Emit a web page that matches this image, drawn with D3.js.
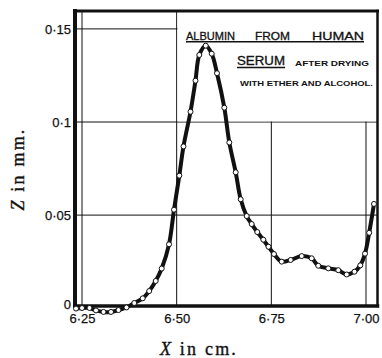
<!DOCTYPE html>
<html>
<head>
<meta charset="utf-8">
<script src="https://cdn.jsdelivr.net/npm/d3@7"></script>
<style>
  html, body { margin: 0; padding: 0; background: #fff; }
  svg { display: block; }
</style>
</head>
<body>
<svg id="chart" width="382" height="358"></svg>
<script>
// ---------- data ----------
const xVals = [6.2342, 6.2500, 6.2698, 6.2870, 6.3068, 6.3266, 6.3464, 6.3675, 6.3881, 6.4103,
               6.4275, 6.4446, 6.4605, 6.4798, 6.4930, 6.5070, 6.5180, 6.5365, 6.5497, 6.5598,
               6.5767, 6.5925, 6.6065, 6.6258, 6.6390, 6.6559, 6.6691, 6.6849, 6.6981, 6.7129,
               6.7288, 6.7425, 6.7570, 6.7774, 6.8011, 6.8302, 6.8566, 6.8740, 6.9004, 6.9268,
               6.9490, 6.9696, 6.9849, 6.9974, 7.0084, 7.0211];
const zVals = [-0.0002, 0.0001, 0.0001, -0.0012, -0.0020, -0.0020, -0.0010, 0.0004, 0.0028, 0.0053,
               0.0092, 0.0146, 0.0213, 0.0343, 0.0529, 0.0712, 0.0869, 0.1055, 0.1222, 0.1360,
               0.1410, 0.1367, 0.1262, 0.1077, 0.0890, 0.0730, 0.0585, 0.0495, 0.0452, 0.0409,
               0.0368, 0.0330, 0.0291, 0.0250, 0.0259, 0.0280, 0.0268, 0.0228, 0.0214, 0.0204,
               0.0181, 0.0196, 0.0230, 0.0293, 0.0405, 0.0560];
const xTicks = [6.25, 6.50, 6.75, 7.00];
const xTickLabels = ["6·25", "6·50", "6·75", "7·00"];
const yTicks = [0, 0.05, 0.10, 0.15];
const yTickLabels = ["0", "0·05", "0·1", "0·15"];
const xTitle = ["X", " in cm."];
const yTitle = ["Z", " in mm."];
const legendLine1 = ["ALBUMIN", "FROM", "HUMAN"];
const legendLine2a = "SERUM";
const legendLine2b = "AFTER DRYING";
const legendLine3 = "WITH ETHER AND ALCOHOL.";

// ---------- layout ----------
const frame = { left: 75, right: 377.5, top: 11, bottom: 306 };
const svg = d3.select("#chart");
const x = d3.scaleLinear().domain([6.25, 7.00]).range([82, 366]);
const y = d3.scaleLinear().domain([0, 0.15]).range([308.2, 28.9]);
const ink = "#111";
const grid = svg.append("g");

// gridlines
grid.selectAll("line.vx").data(xTicks).join("line")
  .attr("x1", d => x(d)).attr("x2", d => x(d))
  .attr("y1", frame.top).attr("y2", frame.bottom)
  .attr("stroke", ink).attr("stroke-width", 1);
grid.selectAll("line.hy").data(yTicks.filter(d => d > 0)).join("line")
  .attr("x1", frame.left).attr("x2", frame.right)
  .attr("y1", d => y(d)).attr("y2", d => y(d))
  .attr("stroke", ink).attr("stroke-width", 1);

// legend area (blank over the grid, top-right)
const lgX0 = x(6.50) + 0.8, lgY1 = y(0.10) - 0.6;
svg.append("rect").attr("x", lgX0).attr("y", frame.top)
  .attr("width", frame.right - lgX0).attr("height", lgY1 - frame.top)
  .attr("fill", "#fff");

// frame
const fr = svg.append("g").attr("stroke", ink).attr("stroke-linecap", "square");
fr.append("line").attr("x1", frame.left).attr("x2", frame.left).attr("y1", frame.top).attr("y2", frame.bottom).attr("stroke-width", 4);
fr.append("line").attr("x1", frame.left).attr("x2", frame.right).attr("y1", frame.top).attr("y2", frame.top).attr("stroke-width", 3);
fr.append("line").attr("x1", frame.left).attr("x2", frame.right).attr("y1", frame.bottom).attr("y2", frame.bottom).attr("stroke-width", 3.5);
fr.append("line").attr("x1", frame.right).attr("x2", frame.right).attr("y1", frame.top).attr("y2", frame.bottom).attr("stroke-width", 2.5);

// axes (labels only)
const tickFont = "'Liberation Sans', Arial, sans-serif";
const gx = svg.append("g").attr("transform", `translate(0,${frame.bottom})`)
  .call(d3.axisBottom(x).tickValues(xTicks).tickFormat((d, i) => xTickLabels[i]).tickSize(0).tickPadding(8));
const gy = svg.append("g").attr("transform", `translate(${frame.left},0)`)
  .call(d3.axisLeft(y).tickValues(yTicks).tickFormat((d, i) => yTickLabels[i]).tickSize(0).tickPadding(4));
[gx, gy].forEach(g => {
  g.select(".domain").remove();
  g.selectAll("text").attr("font-family", tickFont).attr("font-size", 13).attr("fill", ink)
    .attr("stroke", ink).attr("stroke-width", 0.25);
});
gy.selectAll(".tick").filter(d => d === 0).select("text").attr("dy", "0.05em");

// axis titles
const serif = "'Liberation Serif', 'Times New Roman', serif";
const xt = svg.append("text").attr("x", 199).attr("y", 355)
  .attr("text-anchor", "middle").attr("font-family", serif).attr("font-size", 18)
  .attr("letter-spacing", 2.2).attr("fill", ink).attr("stroke", ink).attr("stroke-width", 0.35);
xt.append("tspan").attr("font-style", "italic").text(xTitle[0]);
xt.append("tspan").text(xTitle[1]);
const yt = svg.append("text").attr("transform", "translate(24,169) rotate(-90)")
  .attr("text-anchor", "middle").attr("font-family", serif).attr("font-size", 18)
  .attr("letter-spacing", 2.2).attr("fill", ink).attr("stroke", ink).attr("stroke-width", 0.35);
yt.append("tspan").attr("font-style", "italic").text(yTitle[0]);
yt.append("tspan").text(yTitle[1]);

// legend text
const lg = svg.append("g").attr("font-family", tickFont).attr("fill", ink);
const l1x = [186, 255, 312], l1w = [49, 35, 52];
lg.selectAll("text.l1").data(legendLine1).join("text")
  .attr("x", (d, i) => l1x[i]).attr("y", 39.5)
  .attr("font-size", 11).attr("stroke", ink).attr("stroke-width", 0.3)
  .attr("textLength", (d, i) => l1w[i]).attr("lengthAdjust", "spacingAndGlyphs")
  .text(d => d);
lg.append("line").attr("x1", 186).attr("x2", 364).attr("y1", 41.8).attr("y2", 41.8)
  .attr("stroke", ink).attr("stroke-width", 1.4);
lg.append("text").attr("x", 237).attr("y", 65).attr("font-size", 12)
  .attr("stroke", ink).attr("stroke-width", 0.3)
  .attr("textLength", 48).attr("lengthAdjust", "spacingAndGlyphs").text(legendLine2a);
lg.append("line").attr("x1", 237).attr("x2", 285).attr("y1", 67.5).attr("y2", 67.5)
  .attr("stroke", ink).attr("stroke-width", 1.4);
lg.append("text").attr("x", 295).attr("y", 65.8).attr("font-size", 7).attr("font-weight", "bold")
  .attr("textLength", 74).attr("lengthAdjust", "spacingAndGlyphs").text(legendLine2b);
lg.append("text").attr("x", 240).attr("y", 85.8).attr("font-size", 7.5).attr("font-weight", "bold")
  .attr("textLength", 133).attr("lengthAdjust", "spacingAndGlyphs").text(legendLine3);

// curve
const pts = xVals.map((v, i) => [v, zVals[i]]);
const line = d3.line().x(d => x(d[0])).y(d => y(d[1])).curve(d3.curveCatmullRom.alpha(0.5));
svg.append("path").attr("d", line(pts)).attr("fill", "none")
  .attr("stroke", ink).attr("stroke-width", 4).attr("stroke-linejoin", "round").attr("stroke-linecap", "round");
svg.selectAll("circle.pt").data(pts).join("circle")
  .attr("cx", d => x(d[0])).attr("cy", d => y(d[1])).attr("r", 2.5)
  .attr("fill", "#fff").attr("stroke", ink).attr("stroke-width", 1);
</script>
</body>
</html>
